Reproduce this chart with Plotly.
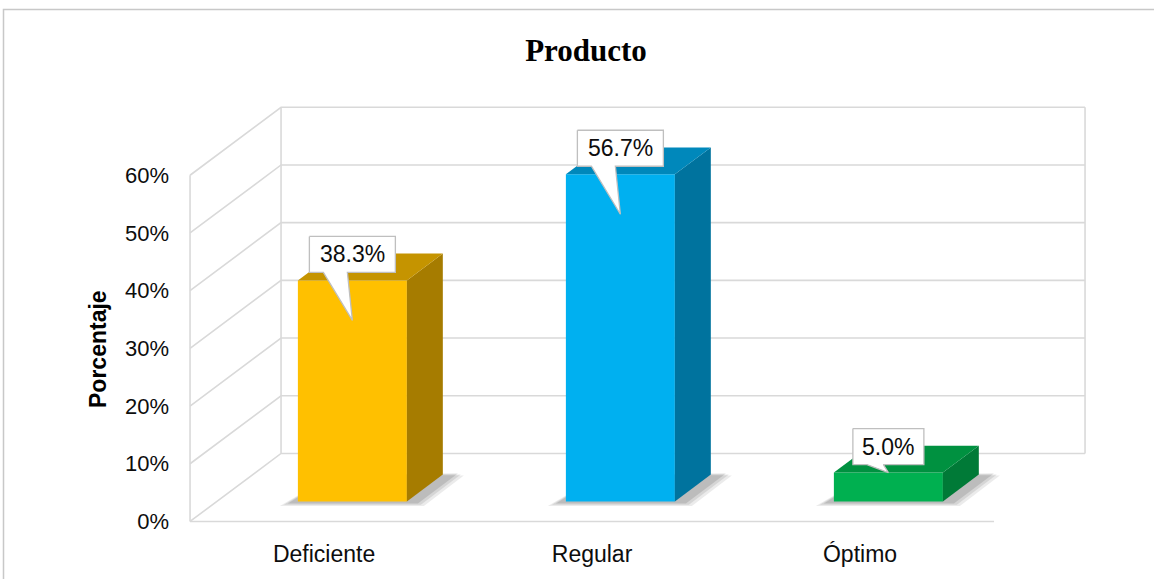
import plotly.graph_objects as go

# ---------------- data ----------------
categories = ["Deficiente", "Regular", "Óptimo"]
values = [38.3, 56.7, 5.0]
value_labels = ["38.3%", "56.7%", "5.0%"]
y_ticks = [0, 10, 20, 30, 40, 50, 60]
y_tick_labels = ["0%", "10%", "20%", "30%", "40%", "50%", "60%"]
chart_title = "Producto"
y_title = "Porcentaje"

# ---------------- style ----------------
front_colors = ["#FFC000", "#00B0F0", "#00B050"]
side_colors = ["#A67C00", "#00739E", "#007A37"]
top_colors = ["#C59400", "#0088BB", "#009140"]
grid_color = "#D9D9D9"
FONT = "Liberation Sans"

W, H = 1154, 579
SX = 268.0      # px per category unit
SY = 5.77       # px per percent
XMIN, YMIN = -0.53, -2.0
ML, MR, MT, MB = 182, 40, 89, 46
PW, PH = W - ML - MR, H - MT - MB
XMAX = XMIN + PW / SX
YMAX = YMIN + PH / SY

def ux(p):
    return p / SX

def uy(p):
    return p / SY

WX0, WX1 = -0.5, 2.5            # floor front edges
YTOP = y_ticks[-1]
DX, DY = ux(91), uy(68)         # depth of floor
F1, F2 = 0.295, 0.69            # bar front/back depth fraction
BW = ux(109)                    # bar width
BOFF = F1 * DX + ux(1.5)        # bar x offset from category
ddx, ddy = (F2 - F1) * DX, (F2 - F1) * DY

fig = go.Figure()

# ---------- walls / gridlines ----------
gx, gy = [], []
for v in y_ticks:
    gx += [WX0, WX0 + DX, WX1 + DX, None]
    gy += [v, v + DY, v + DY, None]
gx += [WX0, WX0, None, WX0 + DX, WX0 + DX, None, WX1 + DX, WX1 + DX, None, WX0, WX1]
gy += [0, YTOP, None, DY, YTOP + DY, None, DY, YTOP + DY, None, 0, 0]
fig.add_trace(go.Scatter(x=gx, y=gy, mode="lines", line=dict(color=grid_color, width=1.6),
                         hoverinfo="skip", showlegend=False, zorder=-3))

# ---------- shadows ----------
for i, v in enumerate(values):
    cx = i + BOFF
    base = F1 * DY
    for k, op in enumerate([0.10, 0.12, 0.16]):
        g = 3 - k
        sx = [cx - BW / 2 - ux(6 + 4 * g), cx + BW / 2 + ux(8 + 3 * g),
              cx + BW / 2 + ddx + ux(12 + 3 * g), cx - BW / 2 + ddx, cx - BW / 2 - ux(6 + 4 * g)]
        sy = [base - uy(1 + 1.2 * g), base - uy(1 + 1.2 * g),
              base + ddy + uy(2 - g), base + ddy, base - uy(1 + 1.2 * g)]
        fig.add_trace(go.Scatter(x=sx, y=sy, mode="lines", fill="toself",
                                 fillcolor=f"rgba(60,60,60,{op})", line=dict(width=0),
                                 hoverinfo="skip", showlegend=False, zorder=-2))

# ---------- bars (front faces) ----------
for i, v in enumerate(values):
    cx = i + BOFF
    base = F1 * DY
    fig.add_trace(go.Bar(x=[cx], y=[v], base=[base], width=BW,
                         marker=dict(color=front_colors[i], line=dict(width=0)),
                         hoverinfo="skip", showlegend=False, zorder=0))

# ---------- side and top faces ----------
for i, v in enumerate(values):
    cx = i + BOFF
    base = F1 * DY
    top = base + v
    xr, xl = cx + BW / 2, cx - BW / 2
    fig.add_trace(go.Scatter(x=[xr, xr + ddx, xr + ddx, xr, xr],
                             y=[base, base + ddy, top + ddy, top, base],
                             mode="lines", fill="toself", fillcolor=side_colors[i],
                             line=dict(width=0, color=side_colors[i]),
                             hoverinfo="skip", showlegend=False, zorder=1))
    fig.add_trace(go.Scatter(x=[xl, xr, xr + ddx, xl + ddx, xl],
                             y=[top, top, top + ddy, top + ddy, top],
                             mode="lines", fill="toself", fillcolor=top_colors[i],
                             line=dict(width=0, color=top_colors[i]),
                             hoverinfo="skip", showlegend=False, zorder=1))

# ---------- callout data labels ----------
annotations = []
for i, v in enumerate(values):
    cx = i + BOFF
    base = F1 * DY
    top = base + v
    txt = value_labels[i]
    bw = ux(15 * len(txt) + 11)
    bh = uy(36)
    b0 = top + uy(8)
    b1 = b0 + bh
    xl, xr = cx - bw / 2, cx + bw / 2
    tip_y = top - (uy(40) if v > 10 else 0)
    px = [xl, xr, xr, cx - ux(5), cx, xl + ux(14), xl, xl]
    py = [b1, b1, b0, b0, tip_y, b0, b0, b1]
    fig.add_trace(go.Scatter(x=px, y=py, mode="lines", fill="toself", fillcolor="white",
                             line=dict(color="#BFBFBF", width=1.3),
                             hoverinfo="skip", showlegend=False, zorder=2))
    annotations.append(dict(x=cx, y=(b0 + b1) / 2, xref="x", yref="y", text=txt,
                            showarrow=False, xanchor="center", yanchor="middle",
                            font=dict(family=FONT, size=23, color="#0D0D0D")))

# y-axis title
annotations.append(dict(x=(98 - ML) / PW, y=(H - MB - 349) / PH, xref="paper", yref="paper",
                        text=y_title, textangle=-90, showarrow=False,
                        xanchor="center", yanchor="middle",
                        font=dict(family=FONT, size=23, color="#000000", weight="bold")))

# chart border
shapes = [dict(type="rect", xref="paper", yref="paper",
               x0=(3.5 - ML) / PW, x1=(W + 20 - ML) / PW,
               y0=(H - MB - (H + 20)) / PH, y1=(H - MB - 9.5) / PH,
               line=dict(color="#C8C8C8", width=1.5), fillcolor="rgba(0,0,0,0)", layer="below")]

fig.update_layout(
    width=W, height=H,
    margin=dict(l=ML, r=MR, t=MT, b=MB, pad=0),
    paper_bgcolor="white", plot_bgcolor="white",
    title=dict(text=chart_title, x=586 / W, xanchor="center", y=1 - 50 / H, yanchor="middle",
               font=dict(family="Liberation Serif", size=31, color="#000000", weight="bold")),
    xaxis=dict(range=[XMIN, XMAX], tickmode="array", tickvals=[0, 1, 2], ticktext=categories,
               showgrid=False, zeroline=False, showline=False, ticks="",
               tickfont=dict(family=FONT, size=23, color="#0D0D0D"), ticklabelstandoff=5,
               fixedrange=True),
    yaxis=dict(range=[YMIN, YMAX], tickmode="array", tickvals=y_ticks, ticktext=y_tick_labels,
               showgrid=False, zeroline=False, showline=False, ticks="",
               tickfont=dict(family=FONT, size=22, color="#0D0D0D"), ticklabelstandoff=12,
               fixedrange=True),
    annotations=annotations,
    shapes=shapes,
    barmode="overlay",
    showlegend=False,
)

fig.write_html("out.html")
